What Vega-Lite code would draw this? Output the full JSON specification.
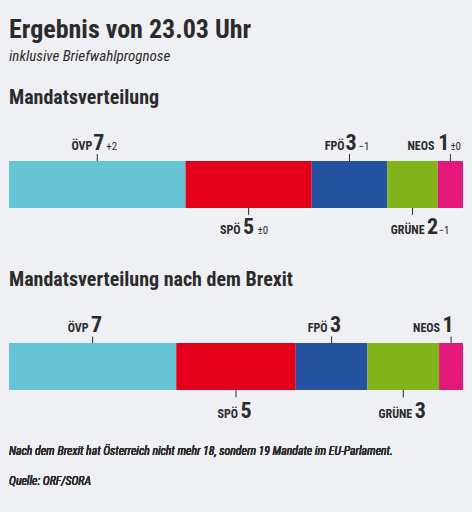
{
  "$schema": "https://vega.github.io/schema/vega-lite/v6.json",
  "background": "#eff0f4",
  "padding": {"left": 9, "right": 9, "top": 17, "bottom": 23},
  "spacing": 32,
  "title": {
    "text": "Ergebnis von 23.03 Uhr",
    "subtitle": "inklusive Briefwahlprognose",
    "anchor": "start",
    "font": "Roboto Condensed",
    "fontSize": 26,
    "fontWeight": "bold",
    "color": "#2b2b2b",
    "baseline": "top",
    "subtitleFont": "Roboto Condensed",
    "subtitleFontSize": 15,
    "subtitleFontStyle": "italic",
    "subtitleFontWeight": "normal",
    "subtitleColor": "#2b2b2b",
    "subtitlePadding": 6,
    "offset": 24
  },
  "datasets": {
    "seats": [
      {"scenario": "Ergebnis", "party": "ÖVP", "seats": 7, "change": "+2", "order": 1},
      {"scenario": "Ergebnis", "party": "SPÖ", "seats": 5, "change": "±0", "order": 2},
      {"scenario": "Ergebnis", "party": "FPÖ", "seats": 3, "change": "−1", "order": 3},
      {"scenario": "Ergebnis", "party": "GRÜNE", "seats": 2, "change": "−1", "order": 4},
      {"scenario": "Ergebnis", "party": "NEOS", "seats": 1, "change": "±0", "order": 5},
      {"scenario": "Brexit", "party": "ÖVP", "seats": 7, "change": "", "order": 1},
      {"scenario": "Brexit", "party": "SPÖ", "seats": 5, "change": "", "order": 2},
      {"scenario": "Brexit", "party": "FPÖ", "seats": 3, "change": "", "order": 3},
      {"scenario": "Brexit", "party": "GRÜNE", "seats": 3, "change": "", "order": 4},
      {"scenario": "Brexit", "party": "NEOS", "seats": 1, "change": "", "order": 5}
    ]
  },
  "vconcat": [
    {
      "title": {"text": "Mandatsverteilung"},
      "width": 454,
      "height": 103,
      "data": {"name": "seats"},
      "transform": [
        {"filter": "datum.scenario === 'Ergebnis'"},
        {"stack": "seats", "groupby": ["scenario"], "sort": [{"field": "order", "order": "ascending"}], "as": ["x0", "x1"]},
        {"calculate": "(datum.x0 + datum.x1) / 2", "as": "mid"}
      ],
      "layer": [
        {
          "mark": {"type": "bar", "cornerRadius": 0},
          "encoding": {
            "x": {"field": "x0", "type": "quantitative", "scale": {"domain": [0, 18], "nice": false}, "axis": null},
            "x2": {"field": "x1"},
            "y": {"datum": 0, "type": "quantitative", "scale": {"domain": [-0.6, 1.6], "nice": false, "zero": false}, "axis": null},
            "y2": {"datum": 1},
            "color": {"field": "party", "type": "nominal", "scale": {"domain": ["ÖVP", "SPÖ", "FPÖ", "GRÜNE", "NEOS"], "range": ["#66c4d4", "#e2001a", "#25529f", "#83b31b", "#e2197b"]}, "legend": null}
          }
        },
        {
          "transform": [{"filter": {"field": "party", "oneOf": ["ÖVP", "FPÖ", "NEOS"]}}],
          "mark": {"type": "rule", "color": "#2b2b2b", "strokeWidth": 1},
          "encoding": {
            "x": {"field": "mid", "type": "quantitative", "scale": {"domain": [0, 18], "nice": false}, "axis": null},
            "y": {"datum": 1, "type": "quantitative"},
            "y2": {"datum": 1.15}
          }
        },
        {
          "transform": [{"filter": {"field": "party", "oneOf": ["SPÖ", "GRÜNE"]}}],
          "mark": {"type": "rule", "color": "#2b2b2b", "strokeWidth": 1},
          "encoding": {
            "x": {"field": "mid", "type": "quantitative", "scale": {"domain": [0, 18], "nice": false}, "axis": null},
            "y": {"datum": 0, "type": "quantitative"},
            "y2": {"datum": -0.15}
          }
        },
        {
          "transform": [{"filter": {"field": "party", "oneOf": ["ÖVP", "FPÖ"]}}],
          "layer": [
            {"mark": {"type": "text", "align": "right", "baseline": "alphabetic", "dx": -5, "font": "Roboto Condensed", "fontSize": 12, "fontWeight": "bold", "color": "#2b2b2b"}, "encoding": {"text": {"field": "party"}}},
            {"mark": {"type": "text", "align": "center", "baseline": "alphabetic", "dx": 1.5, "font": "Roboto Condensed", "fontSize": 22, "fontWeight": "bold", "color": "#2b2b2b"}, "encoding": {"text": {"field": "seats"}}},
            {"mark": {"type": "text", "align": "left", "baseline": "alphabetic", "dx": 9, "font": "Roboto Condensed", "fontSize": 11, "fontWeight": "normal", "color": "#2b2b2b"}, "encoding": {"text": {"field": "change"}}}
          ],
          "encoding": {
            "x": {"field": "mid", "type": "quantitative", "scale": {"domain": [0, 18], "nice": false}, "axis": null},
            "y": {"datum": 1.235, "type": "quantitative"}
          }
        },
        {
          "transform": [{"filter": {"field": "party", "oneOf": ["NEOS"]}}],
          "layer": [
            {"mark": {"type": "text", "align": "right", "baseline": "alphabetic", "dx": -16, "font": "Roboto Condensed", "fontSize": 12, "fontWeight": "bold", "color": "#2b2b2b"}, "encoding": {"text": {"field": "party"}}},
            {"mark": {"type": "text", "align": "center", "baseline": "alphabetic", "dx": -6.5, "font": "Roboto Condensed", "fontSize": 22, "fontWeight": "bold", "color": "#2b2b2b"}, "encoding": {"text": {"field": "seats"}}},
            {"mark": {"type": "text", "align": "left", "baseline": "alphabetic", "dx": 0, "font": "Roboto Condensed", "fontSize": 11, "fontWeight": "normal", "color": "#2b2b2b"}, "encoding": {"text": {"field": "change"}}}
          ],
          "encoding": {
            "x": {"field": "mid", "type": "quantitative", "scale": {"domain": [0, 18], "nice": false}, "axis": null},
            "y": {"datum": 1.235, "type": "quantitative"}
          }
        },
        {
          "transform": [{"filter": {"field": "party", "oneOf": ["SPÖ"]}}],
          "layer": [
            {"mark": {"type": "text", "align": "right", "baseline": "alphabetic", "dx": -8, "font": "Roboto Condensed", "fontSize": 12, "fontWeight": "bold", "color": "#2b2b2b"}, "encoding": {"text": {"field": "party"}}},
            {"mark": {"type": "text", "align": "center", "baseline": "alphabetic", "dx": 0, "font": "Roboto Condensed", "fontSize": 22, "fontWeight": "bold", "color": "#2b2b2b"}, "encoding": {"text": {"field": "seats"}}},
            {"mark": {"type": "text", "align": "left", "baseline": "alphabetic", "dx": 9, "font": "Roboto Condensed", "fontSize": 11, "fontWeight": "normal", "color": "#2b2b2b"}, "encoding": {"text": {"field": "change"}}}
          ],
          "encoding": {
            "x": {"field": "mid", "type": "quantitative", "scale": {"domain": [0, 18], "nice": false}, "axis": null},
            "y": {"datum": -0.556, "type": "quantitative"}
          }
        },
        {
          "transform": [{"filter": {"field": "party", "oneOf": ["GRÜNE"]}}],
          "layer": [
            {"mark": {"type": "text", "align": "right", "baseline": "alphabetic", "dx": 12, "font": "Roboto Condensed", "fontSize": 12, "fontWeight": "bold", "color": "#2b2b2b"}, "encoding": {"text": {"field": "party"}}},
            {"mark": {"type": "text", "align": "center", "baseline": "alphabetic", "dx": 20, "font": "Roboto Condensed", "fontSize": 22, "fontWeight": "bold", "color": "#2b2b2b"}, "encoding": {"text": {"field": "seats"}}},
            {"mark": {"type": "text", "align": "left", "baseline": "alphabetic", "dx": 26, "font": "Roboto Condensed", "fontSize": 11, "fontWeight": "normal", "color": "#2b2b2b"}, "encoding": {"text": {"field": "change"}}}
          ],
          "encoding": {
            "x": {"field": "mid", "type": "quantitative", "scale": {"domain": [0, 18], "nice": false}, "axis": null},
            "y": {"datum": -0.556, "type": "quantitative"}
          }
        }
      ]
    },
    {
      "title": {"text": "Mandatsverteilung nach dem Brexit"},
      "width": 454,
      "height": 103,
      "data": {"name": "seats"},
      "transform": [
        {"filter": "datum.scenario === 'Brexit'"},
        {"stack": "seats", "groupby": ["scenario"], "sort": [{"field": "order", "order": "ascending"}], "as": ["x0", "x1"]},
        {"calculate": "(datum.x0 + datum.x1) / 2", "as": "mid"}
      ],
      "layer": [
        {
          "mark": {"type": "bar", "cornerRadius": 0},
          "encoding": {
            "x": {"field": "x0", "type": "quantitative", "scale": {"domain": [0, 19], "nice": false}, "axis": null},
            "x2": {"field": "x1"},
            "y": {"datum": 0, "type": "quantitative", "scale": {"domain": [-0.6, 1.6], "nice": false, "zero": false}, "axis": null},
            "y2": {"datum": 1},
            "color": {"field": "party", "type": "nominal", "scale": {"domain": ["ÖVP", "SPÖ", "FPÖ", "GRÜNE", "NEOS"], "range": ["#66c4d4", "#e2001a", "#25529f", "#83b31b", "#e2197b"]}, "legend": null}
          }
        },
        {
          "transform": [{"filter": {"field": "party", "oneOf": ["ÖVP", "FPÖ", "NEOS"]}}],
          "mark": {"type": "rule", "color": "#2b2b2b", "strokeWidth": 1},
          "encoding": {
            "x": {"field": "mid", "type": "quantitative", "scale": {"domain": [0, 19], "nice": false}, "axis": null},
            "y": {"datum": 1, "type": "quantitative"},
            "y2": {"datum": 1.14}
          }
        },
        {
          "transform": [{"filter": {"field": "party", "oneOf": ["SPÖ", "GRÜNE"]}}],
          "mark": {"type": "rule", "color": "#2b2b2b", "strokeWidth": 1},
          "encoding": {
            "x": {"field": "mid", "type": "quantitative", "scale": {"domain": [0, 19], "nice": false}, "axis": null},
            "y": {"datum": 0, "type": "quantitative"},
            "y2": {"datum": -0.16}
          }
        },
        {
          "transform": [{"filter": {"field": "party", "oneOf": ["ÖVP", "FPÖ"]}}],
          "layer": [
            {"mark": {"type": "text", "align": "right", "baseline": "alphabetic", "dx": -4, "font": "Roboto Condensed", "fontSize": 12, "fontWeight": "bold", "color": "#2b2b2b"}, "encoding": {"text": {"field": "party"}}},
            {"mark": {"type": "text", "align": "center", "baseline": "alphabetic", "dx": 4, "font": "Roboto Condensed", "fontSize": 22, "fontWeight": "bold", "color": "#2b2b2b"}, "encoding": {"text": {"field": "seats"}}}
          ],
          "encoding": {
            "x": {"field": "mid", "type": "quantitative", "scale": {"domain": [0, 19], "nice": false}, "axis": null},
            "y": {"datum": 1.235, "type": "quantitative"}
          }
        },
        {
          "transform": [{"filter": {"field": "party", "oneOf": ["NEOS"]}}],
          "layer": [
            {"mark": {"type": "text", "align": "right", "baseline": "alphabetic", "dx": -11, "font": "Roboto Condensed", "fontSize": 12, "fontWeight": "bold", "color": "#2b2b2b"}, "encoding": {"text": {"field": "party"}}},
            {"mark": {"type": "text", "align": "center", "baseline": "alphabetic", "dx": -3, "font": "Roboto Condensed", "fontSize": 22, "fontWeight": "bold", "color": "#2b2b2b"}, "encoding": {"text": {"field": "seats"}}}
          ],
          "encoding": {
            "x": {"field": "mid", "type": "quantitative", "scale": {"domain": [0, 19], "nice": false}, "axis": null},
            "y": {"datum": 1.235, "type": "quantitative"}
          }
        },
        {
          "transform": [{"filter": {"field": "party", "oneOf": ["SPÖ"]}}],
          "layer": [
            {"mark": {"type": "text", "align": "right", "baseline": "alphabetic", "dx": 2, "font": "Roboto Condensed", "fontSize": 12, "fontWeight": "bold", "color": "#2b2b2b"}, "encoding": {"text": {"field": "party"}}},
            {"mark": {"type": "text", "align": "center", "baseline": "alphabetic", "dx": 10, "font": "Roboto Condensed", "fontSize": 22, "fontWeight": "bold", "color": "#2b2b2b"}, "encoding": {"text": {"field": "seats"}}}
          ],
          "encoding": {
            "x": {"field": "mid", "type": "quantitative", "scale": {"domain": [0, 19], "nice": false}, "axis": null},
            "y": {"datum": -0.61, "type": "quantitative"}
          }
        },
        {
          "transform": [{"filter": {"field": "party", "oneOf": ["GRÜNE"]}}],
          "layer": [
            {"mark": {"type": "text", "align": "right", "baseline": "alphabetic", "dx": 9, "font": "Roboto Condensed", "fontSize": 12, "fontWeight": "bold", "color": "#2b2b2b"}, "encoding": {"text": {"field": "party"}}},
            {"mark": {"type": "text", "align": "center", "baseline": "alphabetic", "dx": 17, "font": "Roboto Condensed", "fontSize": 22, "fontWeight": "bold", "color": "#2b2b2b"}, "encoding": {"text": {"field": "seats"}}}
          ],
          "encoding": {
            "x": {"field": "mid", "type": "quantitative", "scale": {"domain": [0, 19], "nice": false}, "axis": null},
            "y": {"datum": -0.61, "type": "quantitative"}
          }
        },
        {
          "mark": {"type": "text", "align": "left", "baseline": "alphabetic", "font": "Roboto Condensed", "fontSize": 11.8, "fontStyle": "italic", "fontWeight": "normal", "color": "#2b2b2b"},
          "encoding": {
            "x": {"datum": 0, "type": "quantitative"},
            "y": {"datum": -1.4, "type": "quantitative"},
            "text": {"value": "Nach dem Brexit hat Österreich nicht mehr 18, sondern 19 Mandate im EU-Parlament."}
          }
        },
        {
          "mark": {"type": "text", "align": "left", "baseline": "alphabetic", "font": "Roboto Condensed", "fontSize": 11.8, "fontStyle": "italic", "fontWeight": "normal", "color": "#2b2b2b"},
          "encoding": {
            "x": {"datum": 0, "type": "quantitative"},
            "y": {"datum": -2.04, "type": "quantitative"},
            "text": {"value": "Quelle: ORF/SORA"}
          }
        }
      ]
    }
  ],
  "config": {
    "view": {"stroke": null},
    "title": {
      "anchor": "start",
      "font": "Roboto Condensed",
      "fontSize": 20,
      "fontWeight": "bold",
      "color": "#2b2b2b",
      "baseline": "alphabetic",
      "offset": 24
    }
  }
}
